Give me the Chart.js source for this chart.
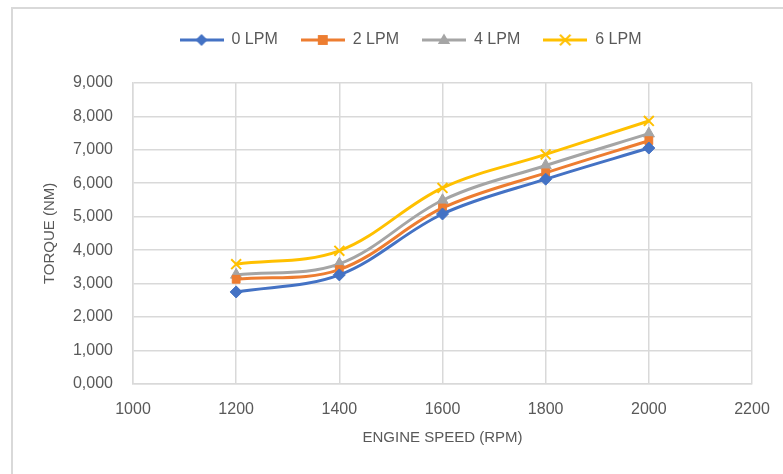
<!DOCTYPE html>
<html>
<head>
<meta charset="utf-8">
<script src="https://cdn.jsdelivr.net/npm/chart.js@4/dist/chart.umd.min.js"></script>
<style>
  html, body { margin: 0; padding: 0; background: #ffffff; }
  #wrap { width: 783px; height: 474px; position: relative; }
</style>
</head>
<body>
<div id="wrap"><canvas id="c" width="783" height="474"></canvas></div>
<script>
// ---- data ----
const engineSpeed = [1200, 1400, 1600, 1800, 2000];
const seriesNames = ['0 LPM', '2 LPM', '4 LPM', '6 LPM'];
const torque0 = [2.75, 3.26, 5.08, 6.12, 7.05];
const torque2 = [3.13, 3.42, 5.26, 6.31, 7.27];
const torque4 = [3.26, 3.59, 5.49, 6.53, 7.48];
const torque6 = [3.58, 3.98, 5.86, 6.86, 7.86];
const xTicks = [1000, 1200, 1400, 1600, 1800, 2000, 2200];
const yTicks = [0, 1, 2, 3, 4, 5, 6, 7, 8, 9];

const colors = ['#4472C4', '#ED7D31', '#A5A5A5', '#FFC000'];
const styles = ['rectRot', 'rect', 'triangle', 'crossRot'];
const radii = [6, 5.5, 6.5, 7];
const allSeries = [torque0, torque2, torque4, torque6];
const FONT = "'Liberation Sans', Arial, sans-serif";
const TXT = '#595959';

function drawMarker(ctx, style, x, y, r, color) {
  ctx.save();
  ctx.fillStyle = color; ctx.strokeStyle = color; ctx.lineWidth = 2;
  ctx.beginPath();
  if (style === 'rectRot') {
    ctx.moveTo(x, y - r); ctx.lineTo(x + r, y); ctx.lineTo(x, y + r); ctx.lineTo(x - r, y); ctx.closePath(); ctx.fill();
  } else if (style === 'rect') {
    const s = r * 0.9; ctx.rect(x - s, y - s, 2 * s, 2 * s); ctx.fill();
  } else if (style === 'triangle') {
    ctx.moveTo(x, y - r); ctx.lineTo(x + r * 0.95, y + r * 0.6); ctx.lineTo(x - r * 0.95, y + r * 0.6); ctx.closePath(); ctx.fill();
  } else {
    const s = r * 0.75;
    ctx.moveTo(x - s, y - s); ctx.lineTo(x + s, y + s); ctx.moveTo(x + s, y - s); ctx.lineTo(x - s, y + s); ctx.stroke();
  }
  ctx.restore();
}

function legendIcon(i) {
  const cv = document.createElement('canvas');
  cv.width = 44; cv.height = 16;
  const ctx = cv.getContext('2d');
  ctx.strokeStyle = colors[i]; ctx.lineWidth = 3;
  ctx.beginPath(); ctx.moveTo(0, 8); ctx.lineTo(44, 8); ctx.stroke();
  drawMarker(ctx, styles[i], 22, 8, radii[i], colors[i]);
  return cv;
}
const icons = seriesNames.map((_, i) => legendIcon(i));

const datasets = seriesNames.map((name, i) => ({
  label: name,
  data: engineSpeed.map((x, k) => ({ x: x, y: allSeries[i][k] })),
  borderColor: colors[i],
  backgroundColor: colors[i],
  borderWidth: 3,
  tension: 0.35,
  pointStyle: styles[i],
  pointRadius: radii[i],
  pointBorderWidth: i === 3 ? 2 : 1,
  pointBackgroundColor: colors[i],
  pointBorderColor: colors[i],
  fill: false
}));

const frame = {
  id: 'frame',
  beforeDraw(chart) {
    const ctx = chart.ctx;
    ctx.save();
    ctx.fillStyle = '#ffffff';
    ctx.fillRect(0, 0, chart.width, chart.height);
    ctx.strokeStyle = '#D9D9D9';
    ctx.lineWidth = 2;
    ctx.strokeRect(12, 8, 900, 600);
    ctx.restore();
  }
};

new Chart(document.getElementById('c'), {
  type: 'line',
  data: { datasets: datasets },
  plugins: [frame],
  options: {
    responsive: false,
    animation: false,
    layout: { padding: { left: 38, right: 0, top: 9, bottom: 0 } },
    plugins: {
      tooltip: { enabled: false },
      legend: {
        position: 'top',
        labels: {
          usePointStyle: true,
          pointStyleWidth: 44,
          padding: 23,
          color: TXT,
          font: { family: FONT, size: 16 },
          generateLabels(chart) {
            return chart.data.datasets.map((ds, i) => ({
              text: ds.label,
              pointStyle: icons[i],
              fillStyle: colors[i],
              strokeStyle: colors[i],
              lineWidth: 0,
              fontColor: TXT,
              datasetIndex: i,
              hidden: false
            }));
          }
        }
      },
      subtitle: {
        display: true,
        text: ' ',
        weight: 500,
        font: { size: 4 },
        padding: 10
      }
    },
    scales: {
      x: {
        type: 'linear',
        min: 1000, max: 2200,
        afterBuildTicks(scale) { scale.ticks = xTicks.map(v => ({ value: v })); },
        afterFit(scale) { scale.height = 90; scale.paddingLeft = 0; scale.paddingRight = 0; },
        grid: { color: '#D9D9D9', lineWidth: 1.5, drawTicks: false },
        border: { color: '#D9D9D9', width: 1.5 },
        ticks: {
          padding: 16,
          color: TXT,
          font: { family: FONT, size: 16 },
          maxRotation: 0,
          callback: v => String(v)
        },
        title: {
          display: true,
          text: 'ENGINE SPEED (RPM)',
          color: TXT,
          font: { family: FONT, size: 15 },
          padding: { top: 0, bottom: 27 }
        }
      },
      y: {
        position: 'left',
        min: 0, max: 9,
        afterBuildTicks(scale) { scale.ticks = yTicks.map(v => ({ value: v })); },
        afterFit(scale) { scale.width = 95; },
        grid: { color: '#D9D9D9', lineWidth: 1.5, drawTicks: false },
        border: { color: '#D9D9D9', width: 1.5 },
        ticks: {
          padding: 20,
          color: TXT,
          font: { family: FONT, size: 16 },
          callback: v => Number(v).toFixed(3).replace('.', ',')
        },
        title: {
          display: true,
          text: 'TORQUE (NM)',
          color: TXT,
          font: { family: FONT, size: 15 },
          padding: { top: 3, bottom: 0 }
        }
      },
      yRight: {
        position: 'right',
        display: true,
        min: 0, max: 9,
        grid: { display: false, drawTicks: false },
        border: { display: false },
        ticks: { display: false },
        afterFit(scale) { scale.width = 31; }
      }
    }
  }
});
</script>
</body>
</html>
